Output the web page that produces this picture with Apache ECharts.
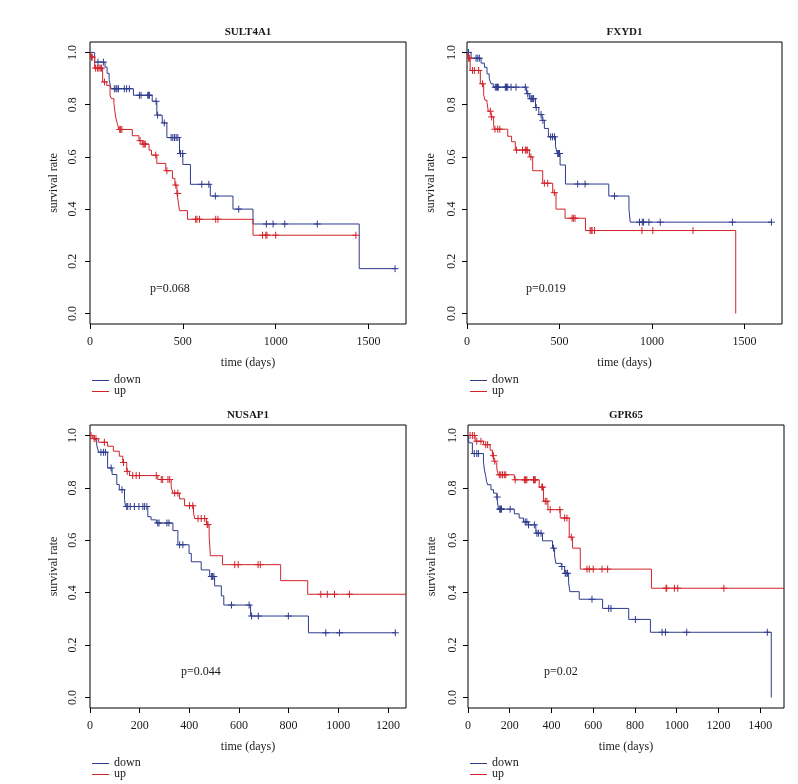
<!DOCTYPE html>
<html>
<head>
<meta charset="utf-8">
<script src="https://cdn.jsdelivr.net/npm/echarts@6/dist/echarts.min.js"></script>
<style>
  html, body { margin: 0; padding: 0; background: #fff; }
  #chart { width: 798px; height: 784px; }
</style>
</head>
<body>
<div id="chart"></div>
<script>
// ---------------- DATA ----------------
const genes = ['SULT4A1', 'FXYD1', 'NUSAP1', 'GPR65'];
const pValues = ['p=0.068', 'p=0.019', 'p=0.044', 'p=0.02'];
const groups = ['down', 'up'];
const yTicks = [0, 0.2, 0.4, 0.6, 0.8, 1.0];
const xTicksA = [0, 500, 1000, 1500];
const xTicksB = [0, 500, 1000, 1500];
const xTicksC = [0, 200, 400, 600, 800, 1000, 1200];
const xTicksD = [0, 200, 400, 600, 800, 1000, 1200, 1400];
const xMaxes = [1702, 1702, 1273, 1514];

// SULT4A1
const sult4a1DownTime = [0, 25, 81, 92, 103, 113, 234, 335, 360, 389, 414, 482, 500, 541, 648, 770, 878, 1450];
const sult4a1DownSurv = [1, 0.963, 0.944, 0.92, 0.896, 0.861, 0.836, 0.813, 0.76, 0.73, 0.674, 0.613, 0.571, 0.495, 0.45, 0.40, 0.343, 0.172];
const sult4a1DownCensor = [43, 72, 131, 140, 145, 153, 185, 197, 212, 266, 275, 311, 316, 320, 356, 364, 400, 437, 446, 455, 464, 473, 487, 499, 602, 640, 675, 801, 950, 986, 1049, 1224, 1643];
const sult4a1DownEnd = 1643;
const sult4a1UpTime = [0, 4, 25, 68, 90, 108, 115, 129, 138, 147, 156, 228, 264, 282, 318, 331, 360, 408, 444, 457, 468, 475, 482, 525, 878];
const sult4a1UpSurv = [1, 0.982, 0.94, 0.887, 0.874, 0.836, 0.823, 0.804, 0.753, 0.728, 0.705, 0.681, 0.662, 0.649, 0.626, 0.607, 0.575, 0.547, 0.518, 0.492, 0.46, 0.43, 0.394, 0.361, 0.30];
const sult4a1UpCensor = [8, 12, 30, 40, 48, 55, 62, 78, 160, 165, 172, 270, 286, 292, 298, 354, 414, 462, 472, 569, 576, 590, 677, 689, 929, 947, 953, 1000, 1432];
const sult4a1UpEnd = 1432;

// FXYD1
const fxyd1DownTime = [0, 22, 76, 94, 108, 120, 130, 142, 322, 337, 370, 388, 406, 418, 440, 478, 488, 503, 532, 766, 875, 882];
const fxyd1DownSurv = [1, 0.978, 0.959, 0.943, 0.918, 0.899, 0.88, 0.867, 0.842, 0.823, 0.789, 0.762, 0.74, 0.709, 0.677, 0.641, 0.613, 0.569, 0.496, 0.45, 0.40, 0.35];
const fxyd1DownCensor = [8, 49, 58, 67, 153, 160, 165, 169, 207, 211, 214, 220, 238, 265, 315, 328, 345, 350, 355, 360, 374, 400, 410, 452, 462, 473, 490, 495, 500, 598, 638, 797, 932, 947, 954, 983, 1044, 1434, 1645];
const fxyd1DownEnd = 1645;
const fxyd1UpTime = [0, 6, 17, 72, 90, 97, 108, 115, 130, 144, 148, 220, 241, 261, 337, 355, 409, 463, 481, 530, 640, 1452];
const fxyd1UpSurv = [1, 0.978, 0.931, 0.88, 0.838, 0.817, 0.808, 0.775, 0.753, 0.721, 0.706, 0.679, 0.658, 0.626, 0.60, 0.547, 0.499, 0.463, 0.40, 0.365, 0.318, 0];
const fxyd1UpCensor = [9, 14, 30, 40, 63, 84, 126, 133, 151, 166, 177, 268, 300, 315, 320, 326, 345, 418, 436, 472, 568, 575, 584, 665, 671, 676, 689, 945, 1004, 1221];
const fxyd1UpEnd = 1452;

// NUSAP1
const nusap1DownTime = [0, 17, 27, 35, 71, 89, 108, 118, 139, 143, 233, 246, 267, 334, 354, 399, 408, 448, 482, 502, 529, 539, 647, 880];
const nusap1DownSurv = [1, 0.985, 0.962, 0.936, 0.876, 0.851, 0.813, 0.793, 0.755, 0.729, 0.69, 0.678, 0.666, 0.637, 0.583, 0.55, 0.518, 0.487, 0.462, 0.426, 0.388, 0.353, 0.311, 0.247];
const nusap1DownCensor = [44, 54, 62, 85, 129, 148, 152, 162, 179, 197, 213, 220, 229, 273, 278, 310, 318, 361, 374, 489, 493, 499, 570, 641, 651, 678, 799, 950, 1005, 1230];
const nusap1DownEnd = 1230;
const nusap1UpTime = [0, 11, 35, 71, 94, 118, 132, 148, 159, 273, 327, 334, 361, 381, 417, 422, 469, 480, 485, 534, 768, 877];
const nusap1UpSurv = [1, 0.988, 0.974, 0.959, 0.94, 0.921, 0.897, 0.863, 0.847, 0.832, 0.804, 0.78, 0.758, 0.732, 0.705, 0.683, 0.66, 0.615, 0.541, 0.507, 0.446, 0.394];
const nusap1UpCensor = [4, 17, 24, 58, 135, 150, 172, 186, 199, 267, 287, 293, 314, 321, 341, 354, 401, 414, 435, 448, 462, 472, 475, 583, 597, 677, 686, 930, 956, 985, 1045];
const nusap1UpEnd = 1273;

// GPR65
const gpr65DownTime = [0, 5, 21, 74, 78, 85, 89, 94, 110, 122, 138, 146, 222, 245, 266, 290, 325, 357, 405, 415, 421, 447, 463, 482, 488, 533, 645, 770, 874, 1453];
const gpr65DownSurv = [1, 0.972, 0.931, 0.902, 0.872, 0.844, 0.825, 0.812, 0.793, 0.78, 0.765, 0.719, 0.701, 0.685, 0.67, 0.659, 0.627, 0.598, 0.57, 0.54, 0.512, 0.50, 0.474, 0.439, 0.404, 0.375, 0.34, 0.298, 0.249, 0];
const gpr65DownCensor = [30, 42, 50, 140, 152, 155, 158, 160, 202, 274, 282, 290, 318, 330, 338, 350, 410, 450, 466, 470, 477, 594, 674, 685, 802, 930, 946, 1048, 1434];
const gpr65DownEnd = 1453;
const gpr65UpTime = [0, 34, 74, 106, 117, 126, 133, 138, 141, 146, 222, 341, 362, 383, 442, 485, 501, 538, 879];
const gpr65UpSurv = [1, 0.978, 0.965, 0.944, 0.923, 0.902, 0.895, 0.876, 0.86, 0.85, 0.831, 0.803, 0.749, 0.717, 0.685, 0.612, 0.57, 0.49, 0.417];
const gpr65UpCensor = [10, 21, 30, 42, 62, 85, 94, 122, 128, 150, 157, 165, 174, 181, 226, 270, 274, 277, 282, 314, 317, 320, 322, 354, 357, 370, 378, 394, 440, 463, 474, 495, 570, 581, 600, 642, 669, 949, 952, 989, 1005, 1226];
const gpr65UpEnd = 1514;

// ---------------- BUILD ----------------
const panelCurves = [
  [[sult4a1DownTime, sult4a1DownSurv, sult4a1DownCensor, sult4a1DownEnd], [sult4a1UpTime, sult4a1UpSurv, sult4a1UpCensor, sult4a1UpEnd]],
  [[fxyd1DownTime, fxyd1DownSurv, fxyd1DownCensor, fxyd1DownEnd], [fxyd1UpTime, fxyd1UpSurv, fxyd1UpCensor, fxyd1UpEnd]],
  [[nusap1DownTime, nusap1DownSurv, nusap1DownCensor, nusap1DownEnd], [nusap1UpTime, nusap1UpSurv, nusap1UpCensor, nusap1UpEnd]],
  [[gpr65DownTime, gpr65DownSurv, gpr65DownCensor, gpr65DownEnd], [gpr65UpTime, gpr65UpSurv, gpr65UpCensor, gpr65UpEnd]]
];
const xTickSets = [xTicksA, xTicksB, xTicksC, xTicksD];

const FONT = "'Liberation Serif', 'DejaVu Serif', serif";
const TXT = '#1a1a1a';
const colors = ['#2e3b8e', '#d2232a'];

// layout (pixels)
const boxes = [
  { left: 90, top: 42, width: 316, height: 282, ylm: 11 },
  { left: 467, top: 42, width: 315, height: 282, ylm: 9.5 },
  { left: 90, top: 425, width: 316, height: 283, ylm: 11 },
  { left: 468, top: 425, width: 316, height: 283, ylm: 9.5 }
];

function survAt(times, surv, t) {
  let s = surv[0];
  for (let i = 0; i < times.length; i++) { if (times[i] <= t) s = surv[i]; }
  return s;
}

const grid = [], xAxis = [], yAxis = [], series = [], graphic = [];

boxes.forEach((b, k) => {
  grid.push({ left: b.left, top: b.top, width: b.width, height: b.height, show: true,
    borderColor: '#000', borderWidth: 1, backgroundColor: 'transparent', containLabel: false });
  xAxis.push({
    type: 'value', gridIndex: k, min: 0, max: xMaxes[k],
    splitLine: { show: false }, axisLine: { show: false, onZero: false },
    axisTick: { show: true, customValues: xTickSets[k], length: 5, inside: false, lineStyle: { color: '#000', width: 1 } },
    axisLabel: { customValues: xTickSets[k], margin: 11.5, fontFamily: FONT, fontSize: 12, color: TXT,
      formatter: v => String(v) },
    name: 'time (days)', nameLocation: 'middle', nameGap: 33,
    nameTextStyle: { fontFamily: FONT, fontSize: 12, color: TXT }
  });
  yAxis.push({
    type: 'value', gridIndex: k, min: -0.04, max: 1.04,
    splitLine: { show: false }, axisLine: { show: false, onZero: false },
    axisTick: { show: true, customValues: yTicks, length: 5, inside: false, lineStyle: { color: '#000', width: 1 } },
    axisLabel: { customValues: yTicks, margin: b.ylm, rotate: 90, fontFamily: FONT, fontSize: 12, color: TXT,
      formatter: v => Number(v).toFixed(1) },
    name: 'survival rate', nameLocation: 'middle', nameGap: 30.5, nameRotate: 90,
    nameTextStyle: { fontFamily: FONT, fontSize: 12, color: TXT }
  });

  panelCurves[k].forEach((c, g) => {
    const [times, surv, cens, end] = c;
    const pts = times.map((t, i) => [t, surv[i]]);
    if (end > times[times.length - 1]) pts.push([end, surv[surv.length - 1]]);
    series.push({
      type: 'line', name: groups[g], xAxisIndex: k, yAxisIndex: k, data: pts,
      step: 'end', symbol: 'none', showSymbol: false, clip: true, silent: true,
      lineStyle: { color: colors[g], width: 1 }, animation: false, z: 2 + g
    });
    series.push({
      type: 'custom', name: groups[g] + ' censored', xAxisIndex: k, yAxisIndex: k, clip: true, silent: true,
      data: cens.map(t => [t, survAt(times, surv, t)]),
      encode: { x: 0, y: 1 }, animation: false, z: 2 + g,
      renderItem: (params, api) => {
        const p = api.coord([api.value(0), api.value(1)]);
        const h = 3.5;
        return { type: 'group', children: [
          { type: 'line', shape: { x1: p[0] - h, y1: p[1], x2: p[0] + h, y2: p[1] }, style: { stroke: colors[g], lineWidth: 1 } },
          { type: 'line', shape: { x1: p[0], y1: p[1] - h, x2: p[0], y2: p[1] + h }, style: { stroke: colors[g], lineWidth: 1 } }
        ] };
      }
    });
  });

  // title
  graphic.push({ type: 'text', x: b.left + b.width / 2, y: b.top - 9.5, silent: true,
    style: { text: genes[k], fontFamily: FONT, fontSize: 11, fontWeight: 'bold', fill: TXT, align: 'center', verticalAlign: 'middle' } });
});

// p-values and legends (annotation positions)
const pPos = [[150, 289], [526, 289], [181, 672], [544, 672]];
pPos.forEach((p, k) => graphic.push({ type: 'text', x: p[0], y: p[1], silent: true,
  style: { text: pValues[k], fontFamily: FONT, fontSize: 12, fill: TXT, align: 'left', verticalAlign: 'middle' } }));

const legPos = [[92, 380], [470, 380], [92, 763], [470, 763]];
legPos.forEach(lp => {
  groups.forEach((gname, g) => {
    const y = lp[1] + g * 11;
    graphic.push({ type: 'line', silent: true, shape: { x1: lp[0], y1: y + 0.5, x2: lp[0] + 17, y2: y + 0.5 }, style: { stroke: colors[g], lineWidth: 1 } });
    graphic.push({ type: 'text', x: lp[0] + 22, y: y, silent: true,
      style: { text: gname, fontFamily: FONT, fontSize: 12, fill: TXT, align: 'left', verticalAlign: 'middle' } });
  });
});

const chart = echarts.init(document.getElementById('chart'), null, { renderer: 'canvas' });
chart.setOption({ animation: false, backgroundColor: '#fff', grid, xAxis, yAxis, series, graphic });
</script>
</body>
</html>
